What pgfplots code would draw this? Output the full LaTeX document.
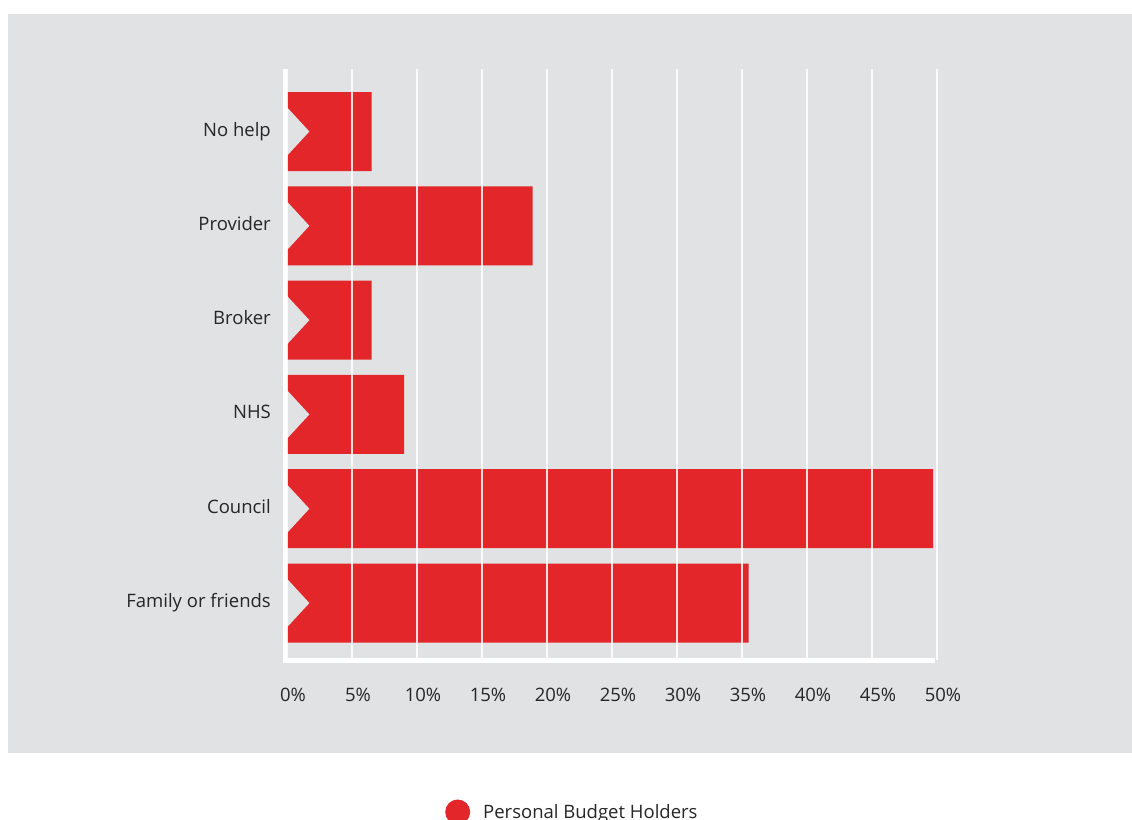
\documentclass[border=0pt]{standalone}
\usepackage{pgfplots}
\pgfplotsset{compat=1.18}
\usepackage{fontspec}
\setmainfont{Open Sans}
\definecolor{bggray}{HTML}{E1E2E4}
\definecolor{barred}{HTML}{E3262A}
\definecolor{txt}{HTML}{262626}
\begin{document}
\begin{tikzpicture}[x=1pt,y=1pt]
\fill[white] (0,0) rectangle (1132,819);
\useasboundingbox (0,0) rectangle (1132,819);
\fill[bggray] (8,66) rectangle (1132,805);
\begin{axis}[
  at={(287pt,159pt)}, anchor=south west,
  scale only axis, width=650pt, height=591pt,
  xmin=0, xmax=50, ymin=-0.604, ymax=5.663,
  axis line style={draw=none},
  major tick length=0pt,
  xtick={0,5,...,50},
  xticklabels={0\%,5\%,10\%,15\%,20\%,25\%,30\%,35\%,40\%,45\%,50\%},
  ytick={0,1,2,3,4,5},
  yticklabels={Family or friends,Council,NHS,Broker,Provider,No help},
  xmajorgrids, ymajorgrids=false,
  major grid style={white, opacity=0.85, line width=1.6pt},
  axis on top,
  tick label style={font=\fontsize{18.5}{21}\selectfont, text=txt},
  /pgf/number format/assume math mode=true,
  xticklabel style={anchor=base, yshift=-41.7pt, xshift=6pt, inner sep=0pt},
  yticklabel style={anchor=base east, xshift=-16pt, yshift=-4.5pt, inner sep=0pt},
  legend style={at={(rel axis cs:0,0)}, anchor=west, xshift=158pt, yshift=-152pt,
    draw=none, fill=none, inner sep=0pt, column sep=13pt,
    nodes={inner sep=0pt}, font=\fontsize{18.5}{21}\selectfont, text=txt},
  legend cell align=left,
  clip=false,
]
\addplot[xbar, bar width=79pt, fill=barred, draw=none, bar shift=0pt,
  legend image code/.code={\fill[barred] (12.5pt,0pt) circle (12.5pt);}]
  coordinates {(35.5,0) (49.7,1) (9.0,2) (6.5,3) (18.9,4) (6.5,5)};
\addlegendentry{Personal Budget Holders}
\addplot[fill=bggray, draw=none, forget plot] coordinates {(-0.05,0.265) (1.72,0) (-0.05,-0.265)} -- cycle;
\addplot[fill=bggray, draw=none, forget plot] coordinates {(-0.05,1.265) (1.72,1) (-0.05,0.735)} -- cycle;
\addplot[fill=bggray, draw=none, forget plot] coordinates {(-0.05,2.265) (1.72,2) (-0.05,1.735)} -- cycle;
\addplot[fill=bggray, draw=none, forget plot] coordinates {(-0.05,3.265) (1.72,3) (-0.05,2.735)} -- cycle;
\addplot[fill=bggray, draw=none, forget plot] coordinates {(-0.05,4.265) (1.72,4) (-0.05,3.735)} -- cycle;
\addplot[fill=bggray, draw=none, forget plot] coordinates {(-0.05,5.265) (1.72,5) (-0.05,4.735)} -- cycle;
\draw[white, line width=4pt] ([xshift=-2pt]rel axis cs:0,1) -- ([xshift=-2pt,yshift=-2.5pt]rel axis cs:0,0);
\draw[white, line width=5pt] ([xshift=-4pt]rel axis cs:0,0) -- ([xshift=-2pt]rel axis cs:1,0);
\end{axis}
\end{tikzpicture}
\end{document}
